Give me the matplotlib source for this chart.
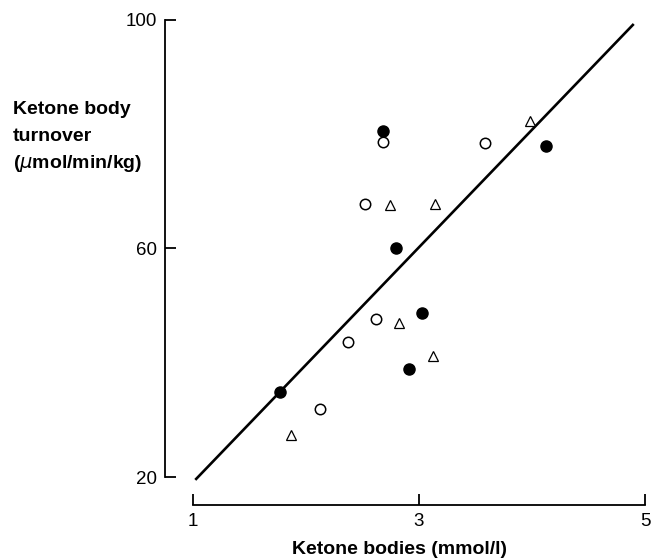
import matplotlib
matplotlib.use("Agg")
import matplotlib.pyplot as plt

plt.rcParams["font.family"] = ["Liberation Sans", "DejaVu Sans"]

# ketone bodies (mmol/l) vs turnover (umol/min/kg)
filled_x = [2.68, 4.12, 2.80, 3.03, 2.91, 1.77]
filled_y = [80.6, 78.0, 60.0, 48.7, 38.9, 34.8]

open_x = [2.68, 3.58, 2.52, 2.62, 2.37, 2.12]
open_y = [78.7, 78.4, 67.8, 47.6, 43.7, 31.9]

tri_x = [3.98, 2.74, 3.14, 2.82, 3.12, 1.87]
tri_y = [82.3, 67.6, 67.8, 46.9, 41.2, 27.3]

# regression line end points
line_x = [1.02, 4.90]
line_y = [19.5, 99.3]

x_ticks = [1, 3, 5]
y_ticks = [20, 60, 100]

ylabel_lines = ["Ketone body", "turnover", "($\\mu$mol/min/kg)"]

fig = plt.figure(figsize=(6.59, 5.60), dpi=100)
ax = fig.add_axes([0.2929, 0.1482, 0.6859, 0.8161])

ax.plot(line_x, line_y, color="black", lw=1.9, clip_on=False, solid_capstyle="butt")
ax.plot(filled_x, filled_y, "o", color="black", ms=8, clip_on=False)
ax.plot(open_x, open_y, "o", mfc="white", mec="black", ms=7.5, mew=1.1, clip_on=False)
ax.plot(tri_x, tri_y, "^", mfc="white", mec="black", ms=6.5, mew=0.9, clip_on=False)

ax.set_xlim(1, 5)
ax.set_ylim(20, 100)
ax.set_xticks(x_ticks)
ax.set_yticks(y_ticks)

for side in ["top", "right"]:
    ax.spines[side].set_visible(False)
for side in ["left", "bottom"]:
    ax.spines[side].set_position(("outward", 20))
    ax.spines[side].set_linewidth(1.3)
ax.spines["left"].set_bounds(20, 100)
ax.spines["bottom"].set_bounds(1, 5)

ax.tick_params(direction="in", length=8, width=1.3, labelsize=13.5, pad=6)

# y label as three stacked lines, baselines ~27 px apart
for i, s in enumerate(ylabel_lines):
    fig.text(13 / 659, (560 - 114 - 27 * i) / 560, s,
             fontsize=14, fontweight="bold", ha="left", va="baseline")
fig.text(400 / 659, 0.003, "Ketone bodies (mmol/l)",
         fontsize=14, fontweight="bold", ha="center", va="bottom")

fig.savefig("out.png", dpi=100)
